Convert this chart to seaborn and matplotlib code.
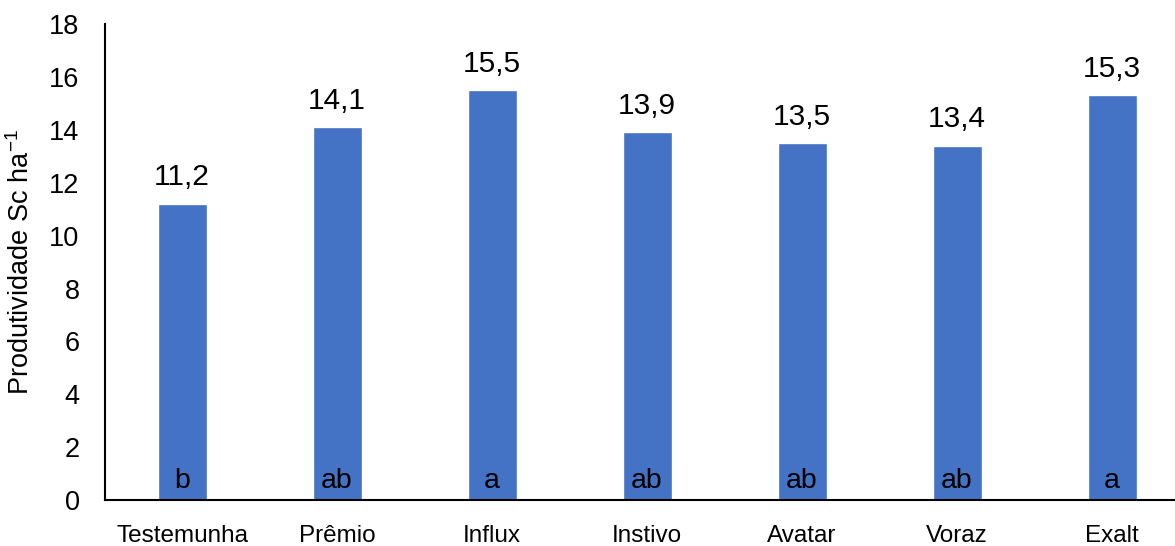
import matplotlib
matplotlib.use('Agg')
import matplotlib.pyplot as plt
import pandas as pd
import seaborn as sns

######################################### DATA #########################################

cultivares = ['Testemunha', 'Prêmio', 'Influx', 'Instivo', 'Avatar', 'Voraz', 'Exalt']
produtividade = [11.2, 14.1, 15.5, 13.9, 13.5, 13.4, 15.3]
letras = ['b', 'ab', 'a', 'ab', 'ab', 'ab', 'a']

df = pd.DataFrame({'cultivar': cultivares, 'prod': produtividade})

######################################### PLOT #########################################

sns.set_style('white')
plt.rcParams['font.family'] = ['Liberation Sans', 'DejaVu Sans']
plt.rcParams['mathtext.default'] = 'regular'
plt.rcParams['text.color'] = 'black'
plt.rcParams['axes.labelcolor'] = 'black'
plt.rcParams['xtick.color'] = 'black'
plt.rcParams['ytick.color'] = 'black'

fig = plt.figure(figsize=(11.75, 5.46), dpi=100)
ax = fig.add_axes([0.089, 0.084, 0.911, 0.872])

sns.barplot(data=df, x='cultivar', y='prod', color='#4472C4', width=0.316,
            saturation=1, ax=ax)

for i, (v, l) in enumerate(zip(produtividade, letras)):
    ax.annotate(f'{v:.1f}'.replace('.', ','), (i, v), xytext=(0, 9),
                textcoords='offset points', ha='center', va='bottom', fontsize=21.5)
    ax.annotate(l, (i, 0), xytext=(0, 9), textcoords='offset points',
                ha='center', va='baseline', fontsize=20.5)

ax.set_ylim(0, 18)
ax.set_yticks(range(0, 19, 2))
ax.set_xlim(-0.5, 6.406)
ax.set_xlabel('')
ax.set_ylabel('Produtividade Sc ha$^{-1}$', fontsize=19.5, labelpad=10)
ax.tick_params(axis='y', length=0, pad=18, labelsize=19.5)
ax.tick_params(axis='x', length=0, pad=18, labelsize=17.5)

for s in ['top', 'right']:
    ax.spines[s].set_visible(False)
for s in ['left', 'bottom']:
    ax.spines[s].set_color('black')
    ax.spines[s].set_linewidth(1.5)

plt.savefig('out.png', dpi=100)
